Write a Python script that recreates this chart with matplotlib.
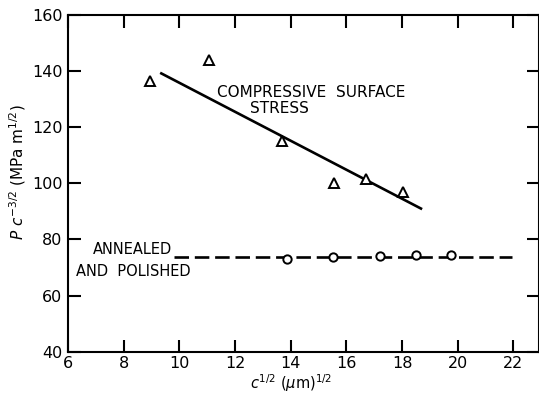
import matplotlib
matplotlib.use("Agg")
import matplotlib.pyplot as plt

# Compressive surface stress data (triangles)
comp_x = [8.95, 11.08, 13.69, 15.54, 16.72, 18.04]
comp_y = [136.5, 143.8, 115.0, 100.2, 101.6, 97.0]
# Fitted line for compressive surface stress
comp_fit_x = [9.31, 18.72]
comp_fit_y = [139.4, 90.8]

# Annealed and polished data (circles)
ann_x = [13.87, 15.52, 17.22, 18.49, 19.74]
ann_y = [72.9, 73.6, 74.1, 74.4, 74.5]
ann_fit_x = [9.79, 21.96]
ann_fit_y = [73.9, 73.9]

x_ticks = [6, 8, 10, 12, 14, 16, 18, 20, 22]
y_ticks = [40, 60, 80, 100, 120, 140, 160]

plt.rcParams['font.family'] = ['DejaVu Sans']

fig = plt.figure(figsize=(5.39, 3.96), dpi=100)
ax = fig.add_axes([68/539, 1-351.7/396, (538.5-68)/539, (351.7-15)/396])

ax.plot(comp_fit_x, comp_fit_y, color='black', lw=1.9, solid_capstyle='butt')
ax.plot(comp_x, comp_y, linestyle='none', marker='^', markersize=7.5,
        markerfacecolor='white', markeredgecolor='black', markeredgewidth=1.4)

ax.plot(ann_fit_x, ann_fit_y, color='black', lw=1.9, dashes=(5.5, 2.2))
ax.plot(ann_x, ann_y, linestyle='none', marker='o', markersize=6,
        markerfacecolor='white', markeredgecolor='black', markeredgewidth=1.4)

ax.set_xlim(6, 22.9)
ax.set_ylim(40, 160)
ax.set_xticks(x_ticks)
ax.set_yticks(y_ticks)
ax.tick_params(direction='in', length=9, width=1.5, labelsize=11.5, pad=4,
               top=True, right=True)
ax.tick_params(axis='x', pad=3)
for s in ax.spines.values():
    s.set_linewidth(1.5)

ax.text(11.35, 135.1, 'COMPRESSIVE  SURFACE', ha='left', va='top', fontsize=11)
ax.text(12.52, 129.2, 'STRESS', ha='left', va='top', fontsize=11)
ax.text(6.9, 79.2, 'ANNEALED', ha='left', va='top', fontsize=10.5)
ax.text(6.29, 71.3, 'AND  POLISHED', ha='left', va='top', fontsize=10.5)

fig.text(18/539, 1-172/396, r'$P\ c^{-3/2}$ (MPa m$^{1/2}$)', rotation=90,
         ha='center', va='center', fontsize=11)
fig.text(291/539, 1-394/396, r'$c^{1/2}$ ($\mu$m)$^{1/2}$', ha='center',
         va='bottom', fontsize=10.5)

fig.savefig('out.png', dpi=100)
